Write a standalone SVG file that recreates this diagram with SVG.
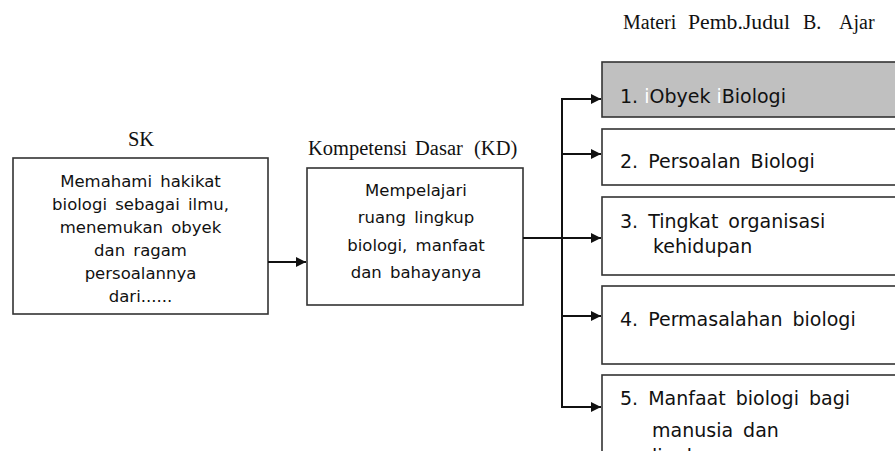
<svg xmlns="http://www.w3.org/2000/svg" width="895" height="451" viewBox="0 0 895 451">
<style>
.bg{fill:#ffffff}
.box{fill:#ffffff;stroke:#333333;stroke-width:1.6}
.gray{fill:#c0c0c0}
.t{font-family:"DejaVu Sans","Liberation Sans",sans-serif;font-size:16.5px;fill:#111111;word-spacing:3px}
.r{font-size:19px;word-spacing:4px}
.c{text-anchor:middle}
.s{font-family:"Liberation Serif","DejaVu Serif",serif;font-size:20.5px;fill:#111111}
.w{fill:#ffffff}
.ln{fill:none;stroke:#111111;stroke-width:2}
</style>
<defs>
<marker id="ah" viewBox="0 0 10 10" refX="10" refY="5" markerWidth="10" markerHeight="10" markerUnits="userSpaceOnUse" orient="auto">
<path d="M0,0 L10,5 L0,10 Z" fill="#111111"/>
</marker>
</defs>
<rect class="bg" x="0" y="0" width="895" height="451"/>
<text class="s" y="29" style="font-size:20px"><tspan x="623">Materi</tspan><tspan x="688" textLength="102" lengthAdjust="spacingAndGlyphs">Pemb.Judul</tspan><tspan x="803">B.</tspan><tspan x="839">Ajar</tspan></text>
<g id="sk">
<text class="s c" x="141" y="146">SK</text>
<rect class="box" x="13" y="158" width="255" height="156"/>
<text class="t c" x="140.5" y="187">Memahami hakikat</text>
<text class="t c" x="140.5" y="210">biologi sebagai ilmu,</text>
<text class="t c" x="140.5" y="233">menemukan obyek</text>
<text class="t c" x="140.5" y="256">dan ragam</text>
<text class="t c" x="140.5" y="279">persoalannya</text>
<text class="t c" x="140.5" y="302">dari......</text>
</g>
<g id="kd">
<text class="s" y="155"><tspan x="308">Kompetensi</tspan><tspan x="415">Dasar</tspan><tspan x="474">(KD)</tspan></text>
<rect class="box" x="307" y="168" width="216" height="137"/>
<text class="t c" x="416" y="196">Mempelajari</text>
<text class="t c" x="416" y="223">ruang lingkup</text>
<text class="t c" x="416" y="251">biologi, manfaat</text>
<text class="t c" x="416" y="278">dan bahayanya</text>
</g>
<g id="m1">
<rect class="box gray" x="602" y="62" width="300" height="55"/>
<text class="t r" x="620" y="103" style="word-spacing:0">1. <tspan class="w">i</tspan>Obyek <tspan class="w">i</tspan>Biologi</text>
</g>
<g id="m2">
<rect class="box" x="602" y="129" width="300" height="56"/>
<text class="t r" x="620" y="168">2. Persoalan Biologi</text>
</g>
<g id="m3">
<rect class="box" x="602" y="197" width="300" height="78"/>
<text class="t r" x="620" y="228">3. Tingkat organisasi</text>
<text class="t r" x="653" y="253">kehidupan</text>
</g>
<g id="m4">
<rect class="box" x="602" y="286" width="300" height="78"/>
<text class="t r" x="620" y="326">4. Permasalahan biologi</text>
</g>
<g id="m5">
<rect class="box" x="602" y="375" width="300" height="100"/>
<text class="t r" x="620" y="405">5. Manfaat biologi bagi</text>
<text class="t r" x="652" y="437">manusia dan</text>
<text class="t r" x="652" y="463">lingkungan</text>
</g>
<g id="connectors">
<line class="ln" x1="268" y1="262" x2="306" y2="262" marker-end="url(#ah)"/>
<line class="ln" x1="523" y1="238" x2="601" y2="238" marker-end="url(#ah)"/>
<line class="ln" x1="562" y1="98" x2="562" y2="408"/>
<line class="ln" x1="561" y1="99" x2="601" y2="99" marker-end="url(#ah)"/>
<line class="ln" x1="561" y1="154" x2="601" y2="154" marker-end="url(#ah)"/>
<line class="ln" x1="561" y1="316" x2="601" y2="316" marker-end="url(#ah)"/>
<line class="ln" x1="561" y1="407" x2="601" y2="407" marker-end="url(#ah)"/>
</g>
</svg>
